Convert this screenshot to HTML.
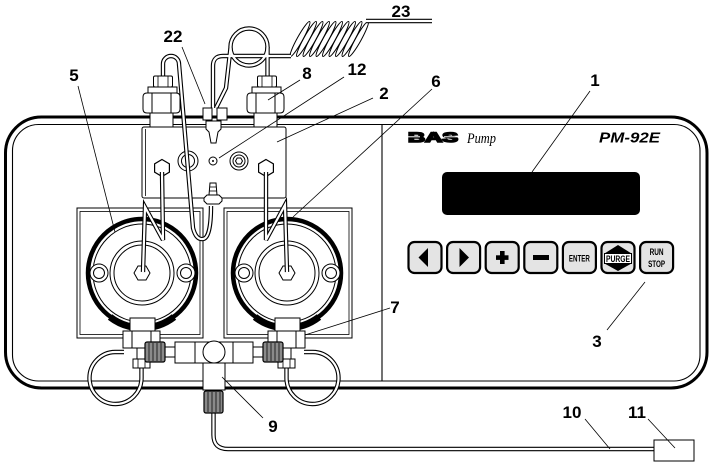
<!DOCTYPE html>
<html><head><meta charset="utf-8">
<style>
html,body{margin:0;padding:0;background:#fff;}
svg{display:block;}
.lbl{font-family:"Liberation Sans",sans-serif;font-weight:bold;font-size:17px;fill:#000;text-anchor:middle;}
.btn{font-family:"Liberation Sans",sans-serif;font-weight:bold;font-size:9px;fill:#000;text-anchor:middle;}
</style></head><body>
<svg width="712" height="463" viewBox="0 0 712 463" xmlns="http://www.w3.org/2000/svg">
<defs>
 <g id="tubesA">
  <path d="M163,78 L163,64 A8,8 0 0 1 179,64 L193,228 Q196,240 203,239 Q211,238 211,206"/>
  <path d="M162,172 L163,240 L145,207 L143,272"/>
  <path d="M266,172 L266,240 L285,205 L287,272"/>
  <path d="M213,108 L213,66 Q213,56 223,56 L291,56"/>
  <path d="M216,108 L226,88 L230.5,48"/>
  <circle cx="249" cy="47" r="18.5"/>
  <path d="M267.5,47 L267.5,77"/>
  <path d="M366,21 L432,21"/>
 </g>
 <g id="head">
  <circle cx="142" cy="273" r="54" fill="#fff" stroke="#000" stroke-width="4.5"/>
  <path d="M110,317 A52.5,52.5 0 0 0 174,317" fill="none" stroke="#000" stroke-width="7"/>
  <circle cx="142" cy="273" r="49" fill="none" stroke="#000" stroke-width="1"/>
  <circle cx="142" cy="273" r="32" fill="none" stroke="#000" stroke-width="1"/>
  <circle cx="142" cy="273" r="28" fill="none" stroke="#000" stroke-width="1"/>
  <circle cx="99" cy="273" r="9" fill="#fff" stroke="#000" stroke-width="1"/>
  <circle cx="99" cy="273" r="5.5" fill="none" stroke="#000" stroke-width="1"/>
  <circle cx="186" cy="273" r="9" fill="#fff" stroke="#000" stroke-width="1"/>
  <circle cx="186" cy="273" r="5.5" fill="none" stroke="#000" stroke-width="1"/>
  <polygon points="150,273 146,280 138,280 134,273 138,266 146,266" fill="#fff" stroke="#000" stroke-width="1"/>
  <rect x="130" y="318" width="25" height="14" fill="#fff" stroke="#000" stroke-width="1"/>
 </g>
 <g id="botL">
  <path d="M124,352 L115,352 A26,26 0 1 0 141.5,378 L141.5,367" fill="none" stroke="#000" stroke-width="4.4"/>
  <path d="M124,352 L115,352 A26,26 0 1 0 141.5,378 L141.5,367" fill="none" stroke="#fff" stroke-width="2.2"/>
  <rect x="137" y="347" width="9" height="12" fill="#fff" stroke="#000" stroke-width="1"/>
  <rect x="123" y="331" width="37" height="17" fill="#fff" stroke="#000" stroke-width="1"/>
  <line x1="132" y1="331" x2="132" y2="348" stroke="#000" stroke-width="1"/>
  <line x1="151" y1="331" x2="151" y2="348" stroke="#000" stroke-width="1"/>
  <rect x="133" y="359" width="17" height="9" fill="#fff" stroke="#000" stroke-width="1"/>
  <line x1="138" y1="359" x2="138" y2="368" stroke="#000" stroke-width="0.8"/>
  <line x1="145" y1="359" x2="145" y2="368" stroke="#000" stroke-width="0.8"/>
  <rect x="165" y="347" width="11" height="10" fill="#fff" stroke="#000" stroke-width="1"/>
  <rect x="145" y="342" width="20" height="20" rx="2" fill="#8a8a8a" stroke="#000" stroke-width="1.2"/>
  <g stroke="#222" stroke-width="1">
   <line x1="149" y1="343" x2="149" y2="361"/><line x1="153" y1="343" x2="153" y2="361"/>
   <line x1="157" y1="343" x2="157" y2="361"/><line x1="161" y1="343" x2="161" y2="361"/>
  </g>
 </g>
 <g id="topfit">
  <rect x="150" y="113" width="23" height="14" fill="#fff" stroke="#000" stroke-width="1"/>
  <path d="M143,97 Q143,93 147,93 L176,93 Q180,93 180,97 L180,109 Q180,113 176,113 L147,113 Q143,113 143,109 Z" fill="#fff" stroke="#000" stroke-width="1"/>
  <line x1="152" y1="93" x2="152" y2="113" stroke="#000" stroke-width="1"/>
  <line x1="171" y1="93" x2="171" y2="113" stroke="#000" stroke-width="1"/>
  <rect x="148" y="87" width="29" height="6" fill="#fff" stroke="#000" stroke-width="1"/>
  <rect x="153.5" y="76" width="19" height="11" rx="1.5" fill="#fff" stroke="#000" stroke-width="1"/>
  <line x1="158" y1="76" x2="158" y2="87" stroke="#000" stroke-width="0.8"/>
  <line x1="168" y1="76" x2="168" y2="87" stroke="#000" stroke-width="0.8"/>
 </g>
</defs>

<!-- case -->
<rect x="5.5" y="117" width="701.5" height="271" rx="36" fill="#fff" stroke="#000" stroke-width="3"/>
<rect x="12.5" y="124.5" width="687.5" height="256.5" rx="26" fill="none" stroke="#000" stroke-width="1.1"/>
<line x1="382" y1="124.5" x2="382" y2="381" stroke="#000" stroke-width="1.1"/>

<!-- plates -->
<rect x="77" y="208" width="126" height="130" fill="#fff" stroke="#000" stroke-width="1"/>
<rect x="80" y="211.5" width="120" height="123" fill="none" stroke="#000" stroke-width="0.8"/>
<rect x="224" y="208" width="128" height="130" fill="#fff" stroke="#000" stroke-width="1"/>
<rect x="227" y="211.5" width="122" height="123" fill="none" stroke="#000" stroke-width="0.8"/>

<use href="#head"/>
<use href="#head" transform="translate(145,0)"/>

<!-- manifold block -->
<rect x="142" y="127" width="144" height="71" rx="2" fill="#fff" stroke="#000" stroke-width="1"/>
<line x1="145.5" y1="129" x2="145.5" y2="196" stroke="#000" stroke-width="0.8"/>
<polygon points="162,159.5 169.4,163.8 169.4,172.2 162,176.5 154.6,172.2 154.6,163.8" fill="#fff" stroke="#000" stroke-width="1.2"/>
<polygon points="266,159.5 273.4,163.8 273.4,172.2 266,176.5 258.6,172.2 258.6,163.8" fill="#fff" stroke="#000" stroke-width="1.2"/>
<circle cx="188" cy="161" r="10" fill="#fff" stroke="#000" stroke-width="1"/>
<circle cx="188" cy="161" r="6.5" fill="none" stroke="#000" stroke-width="1"/>
<circle cx="213" cy="161" r="4" fill="#fff" stroke="#000" stroke-width="1"/>
<circle cx="213" cy="161" r="1" fill="#000"/>
<circle cx="239" cy="161" r="9" fill="#fff" stroke="#000" stroke-width="1"/>
<circle cx="239" cy="161" r="6" fill="none" stroke="#000" stroke-width="1"/>
<polygon points="242.5,161 240.8,164 237.2,164 235.5,161 237.2,158 240.8,158" fill="none" stroke="#000" stroke-width="1"/>

<!-- coil -->
<g fill="none" stroke="#000" stroke-width="1">
 <ellipse cx="300" cy="39" rx="20" ry="2.8" transform="rotate(-61 300 39)"/>
 <ellipse cx="306.5" cy="39" rx="20" ry="2.8" transform="rotate(-61 306.5 39)"/>
 <ellipse cx="313" cy="39" rx="20" ry="2.8" transform="rotate(-61 313 39)"/>
 <ellipse cx="319.5" cy="39" rx="20" ry="2.8" transform="rotate(-61 319.5 39)"/>
 <ellipse cx="326" cy="39" rx="20" ry="2.8" transform="rotate(-61 326 39)"/>
 <ellipse cx="332.5" cy="39" rx="20" ry="2.8" transform="rotate(-61 332.5 39)"/>
 <ellipse cx="339" cy="39" rx="20" ry="2.8" transform="rotate(-61 339 39)"/>
 <ellipse cx="345.5" cy="39" rx="20" ry="2.8" transform="rotate(-61 345.5 39)"/>
 <ellipse cx="352" cy="39" rx="20" ry="2.8" transform="rotate(-61 352 39)"/>
 <ellipse cx="358.5" cy="39" rx="20" ry="2.8" transform="rotate(-61 358.5 39)"/>
</g>

<!-- tubes -->
<use href="#tubesA" fill="none" stroke="#000" stroke-width="4.4"/>
<use href="#tubesA" fill="none" stroke="#fff" stroke-width="2.2"/>

<!-- top fittings -->
<use href="#topfit"/>
<use href="#topfit" transform="translate(104,0)"/>
<rect x="203" y="108" width="9" height="12" fill="#fff" stroke="#000" stroke-width="1"/>
<rect x="217" y="108" width="10" height="12" fill="#fff" stroke="#000" stroke-width="1"/>
<path d="M206,121 L221,121 L221,129 L218,132 L216,143 L211,143 L209,132 L206,129 Z" fill="#fff" stroke="#000" stroke-width="1"/>
<path d="M210,183 L216,183 L217,195 L209,195 Z" fill="#fff" stroke="#000" stroke-width="1"/>
<line x1="209.5" y1="187" x2="216.5" y2="187" stroke="#000" stroke-width="0.8"/>
<line x1="209.5" y1="191" x2="216.5" y2="191" stroke="#000" stroke-width="0.8"/>
<path d="M204,198 L207,195 L219,195 L222,198 L222,201 L219,204 L207,204 L204,201 Z" fill="#fff" stroke="#000" stroke-width="1"/>

<!-- bottom assemblies -->
<use href="#botL"/>
<use href="#botL" transform="matrix(-1 0 0 1 428 0)"/>

<!-- tee -->
<path d="M213.5,413 L213.5,435 Q213.5,449 228,449 L654,449" fill="none" stroke="#000" stroke-width="4.4"/>
<path d="M213.5,413 L213.5,435 Q213.5,449 228,449 L654,449" fill="none" stroke="#fff" stroke-width="2.2"/>
<rect x="175" y="342" width="78" height="21" fill="#fff" stroke="#000" stroke-width="1"/>
<line x1="195" y1="342" x2="195" y2="363" stroke="#000" stroke-width="1"/>
<line x1="233" y1="342" x2="233" y2="363" stroke="#000" stroke-width="1"/>
<rect x="203" y="363" width="22" height="27" fill="#fff" stroke="#000" stroke-width="1"/>
<circle cx="214" cy="352" r="11" fill="#fff" stroke="#000" stroke-width="1"/>
<rect x="204" y="391" width="19" height="22" rx="2" fill="#8a8a8a" stroke="#000" stroke-width="1.2"/>
<g stroke="#222" stroke-width="1">
 <line x1="208" y1="392" x2="208" y2="412"/><line x1="212" y1="392" x2="212" y2="412"/>
 <line x1="216" y1="392" x2="216" y2="412"/><line x1="220" y1="392" x2="220" y2="412"/>
</g>
<rect x="654" y="440" width="40" height="21" fill="#fff" stroke="#000" stroke-width="1"/>

<!-- panel -->
<text x="433" y="142" font-family="Liberation Sans, sans-serif" font-weight="bold" font-size="14" textLength="50" lengthAdjust="spacingAndGlyphs" text-anchor="middle" stroke="#000" stroke-width="1.6" fill="#000">BAS</text>
<line x1="408" y1="136.8" x2="420" y2="136.8" stroke="#fff" stroke-width="1"/>
<line x1="444" y1="136.8" x2="458" y2="136.8" stroke="#fff" stroke-width="1"/>
<text x="467" y="143" font-family="Liberation Serif, serif" font-style="italic" font-size="15" textLength="29" lengthAdjust="spacingAndGlyphs" fill="#000">Pump</text>
<text x="599" y="142.5" font-family="Liberation Sans, sans-serif" font-style="italic" font-weight="bold" font-size="15" textLength="61" lengthAdjust="spacingAndGlyphs" fill="#000">PM-92E</text>
<rect x="442" y="172" width="198" height="43" rx="5" fill="#000"/>

<g fill="#e4e4e4" stroke="#000" stroke-width="2.2">
 <rect x="408.5" y="242" width="33" height="31" rx="6"/>
 <rect x="447.1" y="242" width="33" height="31" rx="6"/>
 <rect x="485.7" y="242" width="33" height="31" rx="6"/>
 <rect x="524.3" y="242" width="33" height="31" rx="6"/>
 <rect x="562.9" y="242" width="33" height="31" rx="6"/>
 <rect x="601.5" y="242" width="33" height="31" rx="6"/>
 <rect x="640.1" y="242" width="33" height="31" rx="6"/>
</g>
<polygon points="418.5,257.5 428,248 428,267" fill="#000"/>
<polygon points="469,257.5 459.5,248 459.5,267" fill="#000"/>
<rect x="496" y="255.3" width="12.5" height="4.6" fill="#000"/>
<rect x="500" y="251" width="4.6" height="13" fill="#000"/>
<rect x="533" y="255" width="16" height="5" fill="#000"/>
<text class="btn" x="579.4" y="261.5" textLength="21" lengthAdjust="spacingAndGlyphs">ENTER</text>
<polygon points="618,245 604.5,253.5 631.5,253.5" fill="#000"/>
<polygon points="618,271 604.5,263.5 631.5,263.5" fill="#000"/>
<rect x="604.5" y="253.5" width="27" height="10" fill="#fff" stroke="#000" stroke-width="1"/>
<text class="btn" x="618" y="262" font-size="8.5" textLength="24" lengthAdjust="spacingAndGlyphs">PURGE</text>
<text class="btn" x="656.6" y="255" textLength="14" lengthAdjust="spacingAndGlyphs">RUN</text>
<text class="btn" x="656.6" y="267" textLength="17" lengthAdjust="spacingAndGlyphs">STOP</text>

<!-- leaders -->
<g stroke="#000" stroke-width="0.8" fill="none">
 <line x1="78" y1="86" x2="115" y2="232"/>
 <line x1="182" y1="47" x2="205" y2="104"/>
 <line x1="300" y1="80" x2="268" y2="100"/>
 <line x1="344" y1="77" x2="219" y2="158"/>
 <line x1="373" y1="98" x2="277" y2="142"/>
 <line x1="432" y1="89" x2="293" y2="217"/>
 <line x1="590" y1="91" x2="532" y2="172"/>
 <line x1="607" y1="330" x2="645" y2="282"/>
 <line x1="305" y1="335" x2="390" y2="308"/>
 <line x1="222" y1="377" x2="263" y2="418"/>
 <line x1="585" y1="419" x2="610" y2="449"/>
 <line x1="648" y1="419" x2="675" y2="448"/>
</g>

<!-- labels -->
<text class="lbl" x="401" y="17">23</text>
<text class="lbl" x="173" y="42">22</text>
<text class="lbl" x="74" y="81">5</text>
<text class="lbl" x="307" y="79">8</text>
<text class="lbl" x="357" y="75">12</text>
<text class="lbl" x="384" y="99">2</text>
<text class="lbl" x="436" y="87">6</text>
<text class="lbl" x="595" y="86">1</text>
<text class="lbl" x="395" y="313">7</text>
<text class="lbl" x="597" y="347">3</text>
<text class="lbl" x="273" y="432">9</text>
<text class="lbl" x="572" y="418">10</text>
<text class="lbl" x="637" y="418">11</text>
</svg>
</body></html>
